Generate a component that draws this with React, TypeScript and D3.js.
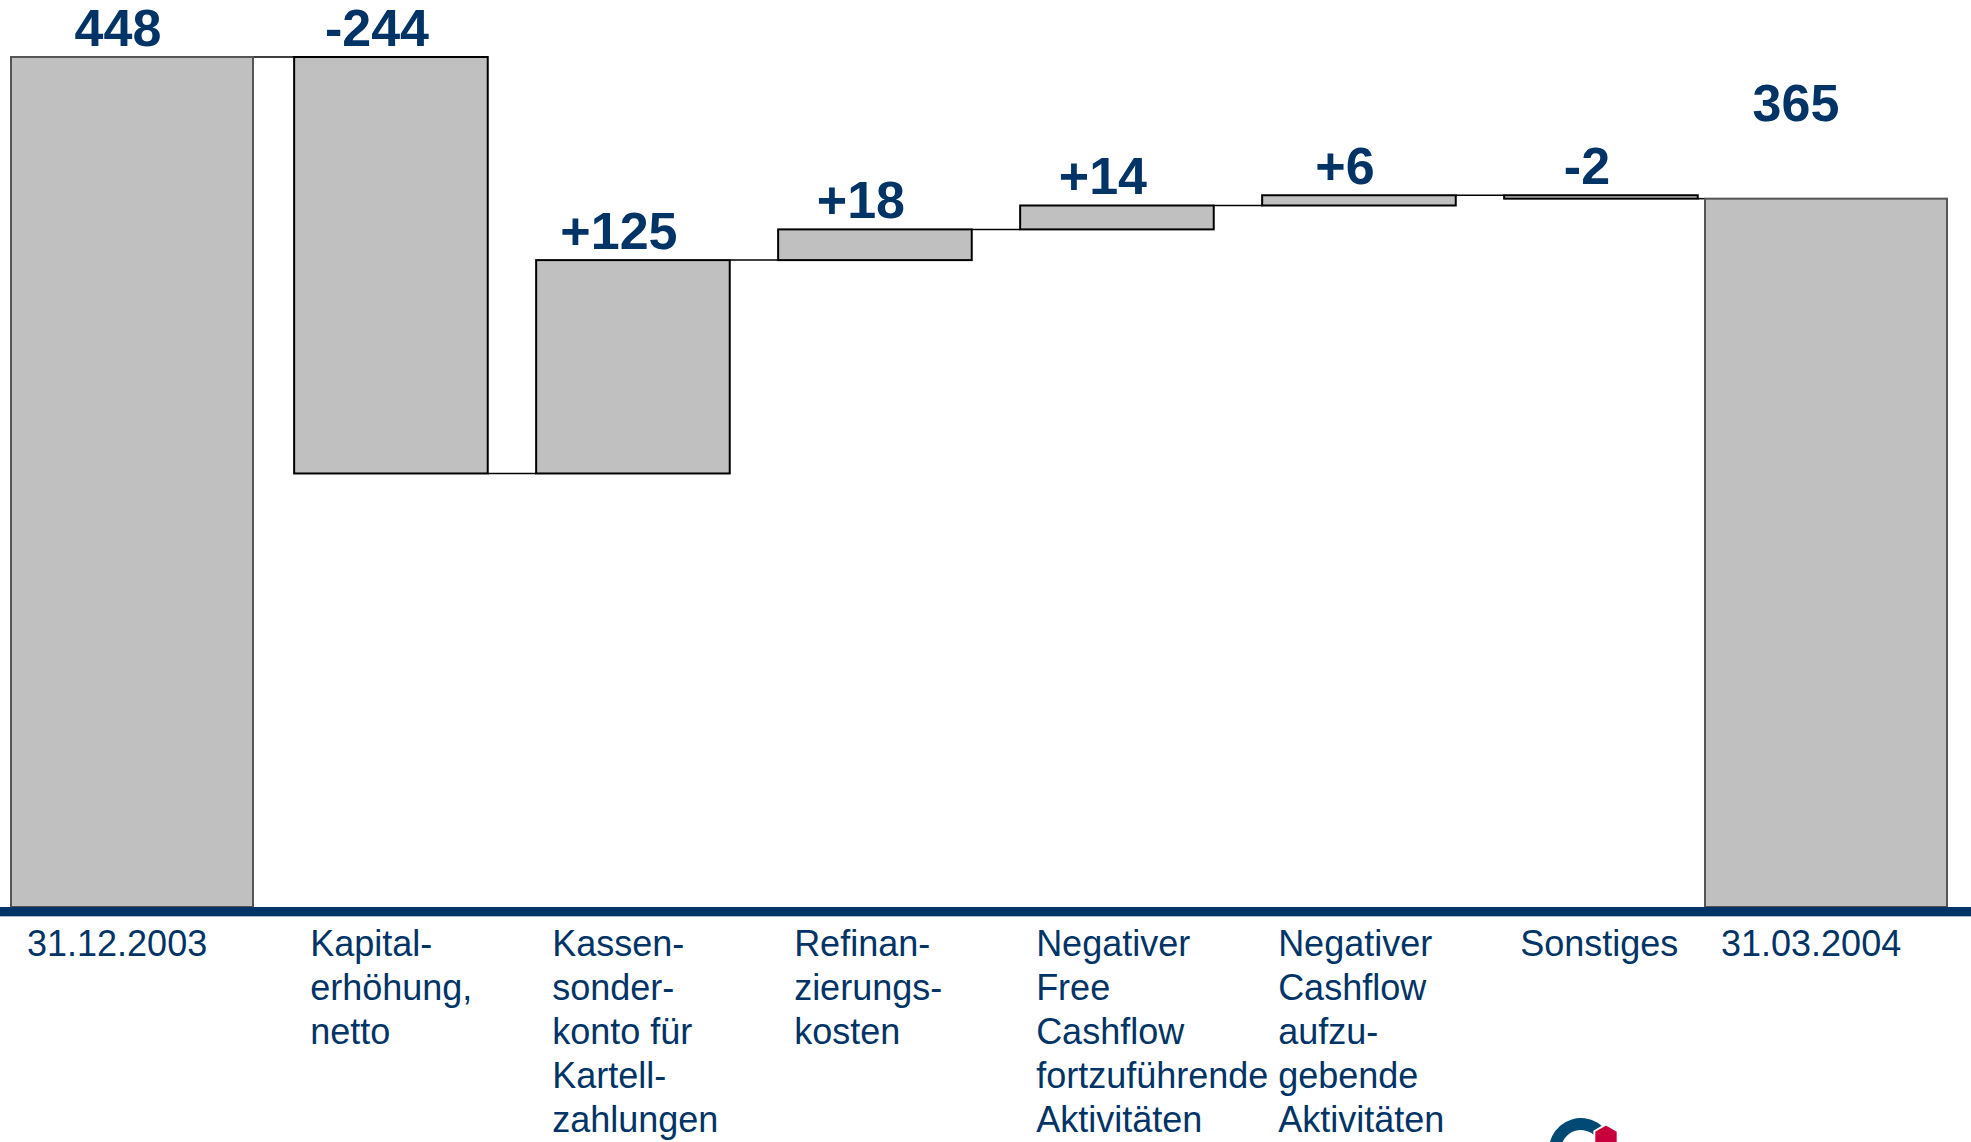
import React, { useEffect, useRef } from "react";
import * as d3 from "d3";

// categories (line-broken as on the slide)
const categories = [
  ["31.12.2003"],
  ["Kapital-", "erhöhung,", "netto"],
  ["Kassen-", "sonder-", "konto für", "Kartell-", "zahlungen"],
  ["Refinan-", "zierungs-", "kosten"],
  ["Negativer", "Free", "Cashflow", "fortzuführende", "Aktivitäten"],
  ["Negativer", "Cashflow", "aufzu-", "gebende", "Aktivitäten"],
  ["Sonstiges"],
  ["31.03.2004"],
];
const values = [448, -244, 125, 18, 14, 6, -2, 365];
const isTotal = [true, false, false, false, false, false, false, true];
const valueLabels = ["448", "-244", "+125", "+18", "+14", "+6", "-2", "365"];

const W = 1971;
const H = 1142;
const NAVY = "#003366";

const App = () => {
  const ref = useRef(null);

  useEffect(() => {
    document.body.style.margin = "0";
    const svg = d3.select(ref.current);
    svg.selectAll("*").remove();

    const axisY = 907;
    const baseValue = -50; // bars are not drawn from zero on the slide

    // waterfall steps
    let level = 0;
    const steps = values.map((v, i) => {
      let start, end;
      if (isTotal[i]) {
        start = baseValue;
        end = v;
      } else {
        start = level;
        end = level + v;
      }
      level = end;
      return { i, start, end, level };
    });

    const x = d3.scaleBand().domain(d3.range(values.length)).range([11, 1947]).padding(0);
    const y = d3
      .scaleLinear()
      .domain([baseValue, d3.max(steps, (d) => Math.max(d.start, d.end))])
      .range([axisY, 57]);

    const bw = x.bandwidth();
    const deltaW = bw * 0.8;
    const barX = (i) => (isTotal[i] ? x(i) : x(i) + (bw - deltaW) * 0.85);
    const barW = (i) => (isTotal[i] ? bw : deltaW);
    const last = values.length - 1;

    // connectors
    svg
      .append("g")
      .attr("stroke", "#000")
      .attr("stroke-width", 1.5)
      .selectAll("line")
      .data(steps.slice(0, -1))
      .join("line")
      .attr("x1", (d) => barX(d.i) + barW(d.i))
      .attr("x2", (d) => barX(d.i + 1))
      .attr("y1", (d) => y(d.level))
      .attr("y2", (d) => y(d.level));

    // bars
    svg
      .append("g")
      .selectAll("rect")
      .data(steps)
      .join("rect")
      .attr("x", (d) => barX(d.i))
      .attr("width", (d) => barW(d.i))
      .attr("y", (d) => y(Math.max(d.start, d.end)))
      .attr("height", (d) => Math.abs(y(d.start) - y(d.end)))
      .attr("fill", "#c0c0c0")
      .attr("stroke", (d) => (isTotal[d.i] ? "#555" : "#000"))
      .attr("stroke-width", 2);

    // value labels
    svg
      .append("g")
      .selectAll("text")
      .data(steps)
      .join("text")
      .attr("x", (d) => barX(d.i) + barW(d.i) / 2 - (d.i === last ? 30 : 14))
      .attr("y", (d) => y(Math.max(d.start, d.end)) - (d.i === last ? 78 : 11))
      .attr("text-anchor", "middle")
      .style("font-family", "'Liberation Sans', Arial, sans-serif")
      .style("font-weight", "bold")
      .style("font-size", "52px")
      .style("fill", NAVY)
      .text((d) => valueLabels[d.i]);

    // axis line
    const axis = svg.append("g");
    axis
      .append("rect")
      .attr("x", 0)
      .attr("y", axisY)
      .attr("width", W)
      .attr("height", 9)
      .attr("fill", NAVY);
    axis
      .append("line")
      .attr("x1", 0)
      .attr("x2", W)
      .attr("y1", axisY + 9.5)
      .attr("y2", axisY + 9.5)
      .attr("stroke", "#a9b9cc")
      .attr("stroke-width", 1);

    // category labels
    const cat = svg
      .append("g")
      .style("font-family", "'Liberation Sans', Arial, sans-serif")
      .style("font-size", "36px")
      .style("fill", NAVY)
      .selectAll("text")
      .data(categories)
      .join("text")
      .attr("x", (d, i) => barX(i) + 16)
      .attr("y", 956);
    cat
      .selectAll("tspan")
      .data((d) => d)
      .join("tspan")
      .attr("x", function () {
        return d3.select(this.parentNode).attr("x");
      })
      .attr("dy", (d, j) => (j === 0 ? 0 : 44))
      .text((d) => d);

    // logo fragment at the bottom edge
    const logo = svg.append("g");
    logo
      .append("path")
      .attr("transform", "translate(1581,1150)")
      .attr("d", d3.arc()({ innerRadius: 20, outerRadius: 32, startAngle: -Math.PI * 0.75, endAngle: Math.PI * 0.3 }))
      .attr("fill", "#004a73");
    const hex = d3.range(6).map((k) => {
      const a = (Math.PI / 3) * k - Math.PI / 2;
      return [1606 + 13.5 * Math.cos(a), 1138 + 13.5 * Math.sin(a)];
    });
    logo
      .append("path")
      .attr("d", d3.line()(hex) + "Z")
      .attr("fill", "#c8003c")
      .attr("stroke", "#fff")
      .attr("stroke-width", 2);
  }, []);

  return (
    <svg
      ref={ref}
      width={W}
      height={H}
      style={{ position: "absolute", left: 0, top: 0, display: "block", background: "#fff" }}
    />
  );
};

export default App;
